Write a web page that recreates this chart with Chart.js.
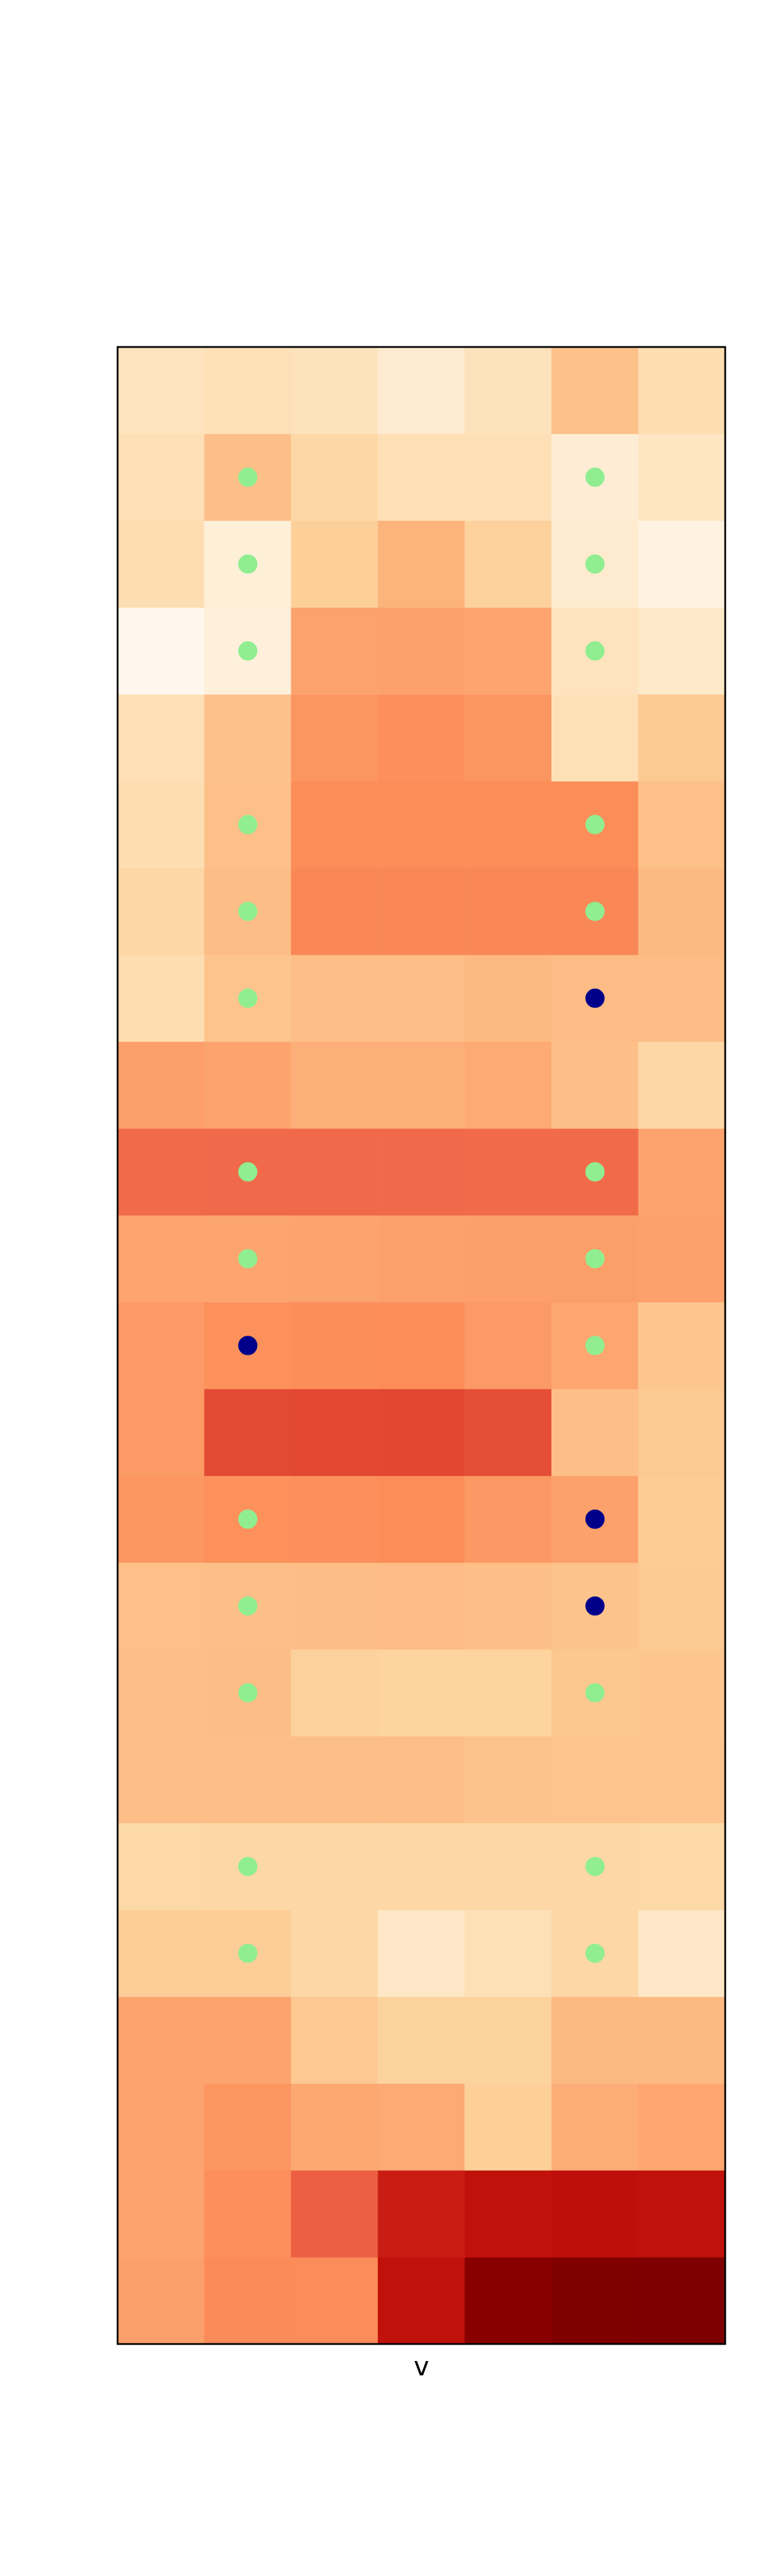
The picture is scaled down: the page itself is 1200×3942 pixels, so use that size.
<!DOCTYPE html>
<html>
<head>
<meta charset="utf-8">
<script src="https://cdn.jsdelivr.net/npm/chart.js@4/dist/chart.umd.min.js"></script>
<style>
  html, body { margin: 0; padding: 0; background: #ffffff; }
  #wrap { width: 1200px; height: 3942px; }
</style>
</head>
<body>
<div id="wrap"><canvas id="heat"></canvas></div>
<script>
// column labels (not shown on the chart)
const columns = ['0', '1', '2', '3', '4', '5', '6'];

// cell values, one array per row (top to bottom), 0..1 on the OrRd scale
const row00 = [0.156, 0.175, 0.160, 0.100, 0.160, 0.345, 0.190];
const row01 = [0.180, 0.355, 0.225, 0.180, 0.180, 0.085, 0.140];
const row02 = [0.190, 0.065, 0.270, 0.397, 0.265, 0.100, 0.040];
const row03 = [0.000, 0.060, 0.443, 0.445, 0.437, 0.156, 0.120];
const row04 = [0.180, 0.340, 0.476, 0.495, 0.476, 0.175, 0.305];
const row05 = [0.190, 0.350, 0.500, 0.500, 0.500, 0.500, 0.350];
const row06 = [0.230, 0.365, 0.516, 0.516, 0.516, 0.516, 0.380];
const row07 = [0.190, 0.330, 0.360, 0.360, 0.380, 0.370, 0.370];
const row08 = [0.450, 0.440, 0.408, 0.408, 0.420, 0.355, 0.230];
const row09 = [0.609, 0.612, 0.612, 0.612, 0.607, 0.607, 0.440];
const row10 = [0.437, 0.435, 0.440, 0.446, 0.450, 0.455, 0.445];
const row11 = [0.467, 0.490, 0.497, 0.500, 0.465, 0.432, 0.320];
const row12 = [0.465, 0.689, 0.693, 0.695, 0.677, 0.360, 0.305];
const row13 = [0.473, 0.490, 0.495, 0.500, 0.470, 0.445, 0.290];
const row14 = [0.350, 0.355, 0.365, 0.370, 0.355, 0.335, 0.300];
const row15 = [0.360, 0.365, 0.265, 0.250, 0.250, 0.315, 0.320];
const row16 = [0.360, 0.360, 0.355, 0.360, 0.335, 0.330, 0.330];
const row17 = [0.220, 0.225, 0.225, 0.225, 0.225, 0.225, 0.220];
const row18 = [0.285, 0.285, 0.225, 0.130, 0.175, 0.225, 0.130];
const row19 = [0.440, 0.440, 0.310, 0.255, 0.255, 0.380, 0.380];
const row20 = [0.440, 0.476, 0.430, 0.420, 0.270, 0.410, 0.432];
const row21 = [0.440, 0.495, 0.640, 0.800, 0.830, 0.835, 0.830];
const row22 = [0.448, 0.505, 0.503, 0.830, 0.978, 0.998, 1.000];

const rows = [row00, row01, row02, row03, row04, row05, row06, row07, row08, row09, row10, row11,
              row12, row13, row14, row15, row16, row17, row18, row19, row20, row21, row22];

// markers in column 1 and column 5, per row: g = green dot, b = dark blue dot, '' = none
const marksCol1 = ['', 'g', 'g', 'g', '', 'g', 'g', 'g', '', 'g', 'g', 'b',
                   '', 'g', 'g', 'g', '', 'g', 'g', '', '', '', ''];
const marksCol5 = ['', 'g', 'g', 'g', '', 'g', 'g', 'b', '', 'g', 'g', 'g',
                   '', 'b', 'b', 'g', '', 'g', 'g', '', '', '', ''];

// OrRd colour stops
const orrd = [
  [255, 247, 236], [254, 232, 200], [253, 212, 158], [253, 187, 132], [252, 141, 89],
  [239, 101, 72], [215, 48, 31], [179, 0, 0], [127, 0, 0]
];
function orrdColor(t) {
  t = Math.max(0, Math.min(1, t));
  const p = t * (orrd.length - 1);
  const i = Math.min(Math.floor(p), orrd.length - 2);
  const f = p - i;
  const c = orrd[i].map((v, k) => Math.round(v + (orrd[i + 1][k] - v) * f));
  return 'rgb(' + c.join(',') + ')';
}

// one floating-bar dataset per row
const cellSets = rows.map((vals, r) => ({
  type: 'bar',
  order: 1,
  data: vals.map(() => [r, r + 1]),
  backgroundColor: vals.map(orrdColor),
  borderWidth: 0,
  grouped: false,
  barPercentage: 1,
  categoryPercentage: 1
}));

function dots(code) {
  const pts = [];
  marksCol1.forEach((m, r) => { if (m === code) pts.push({ x: columns[1], y: r + 0.5 }); });
  marksCol5.forEach((m, r) => { if (m === code) pts.push({ x: columns[5], y: r + 0.5 }); });
  return pts;
}

const dotSets = [
  { type: 'scatter', order: 0, data: dots('g'), backgroundColor: '#90ee90',
    pointRadius: 14.7, pointBorderWidth: 0, pointHoverRadius: 14.7 },
  { type: 'scatter', order: 0, data: dots('b'), backgroundColor: '#00008b',
    pointRadius: 14.7, pointBorderWidth: 0, pointHoverRadius: 14.7 }
];

// black frame round the plot area
const frame = {
  id: 'frame',
  afterDraw(chart) {
    const a = chart.chartArea;
    const ctx = chart.ctx;
    ctx.save();
    ctx.strokeStyle = '#000000';
    ctx.lineWidth = 2.7;
    ctx.strokeRect(a.left, a.top, a.right - a.left, a.bottom - a.top);
    ctx.restore();
  }
};

new Chart(document.getElementById('heat'), {
  type: 'bar',
  data: { labels: columns, datasets: dotSets.concat(cellSets) },
  options: {
    responsive: true,
    maintainAspectRatio: false,
    animation: false,
    layout: { padding: { left: 180, right: 90, top: 531, bottom: 297 } },
    plugins: { legend: { display: false }, tooltip: { enabled: false } },
    scales: {
      x: {
        type: 'category',
        offset: true,
        grid: { display: false, drawTicks: false },
        border: { display: false },
        ticks: { display: false },
        title: {
          display: true,
          text: 'v',
          color: '#000000',
          font: { family: 'DejaVu Sans', size: 40, lineHeight: 1 },
          padding: { top: 18, bottom: 0 }
        }
      },
      y: {
        type: 'linear',
        display: false,
        min: 0,
        max: 23,
        reverse: true
      }
    }
  },
  plugins: [frame]
});
</script>
</body>
</html>
